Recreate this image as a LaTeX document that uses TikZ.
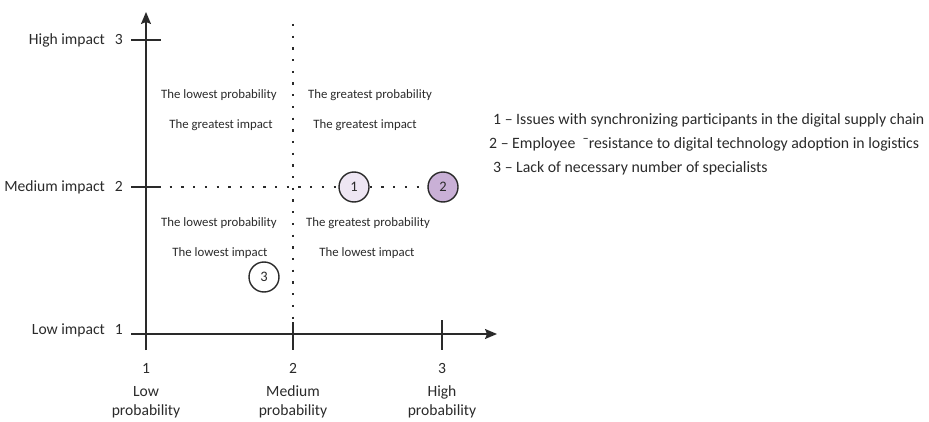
\documentclass[tikz,border=0pt]{standalone}
\usepackage{fontspec}
\setmainfont{Carlito}
\usetikzlibrary{arrows.meta}
\definecolor{ink}{HTML}{2A2A2A}
\definecolor{lilac}{HTML}{EEE6F3}
\definecolor{mauve}{HTML}{C9B0D6}

\tikzset{
  axis/.style={line width=1.4pt, draw=ink, -{Stealth[length=12pt,width=10pt,inset=2pt]}},
  tickmark/.style={line width=1.2pt, draw=ink},
  dotline/.style={line width=2.3pt, draw=ink, dash pattern=on 2.3pt off 9.4pt},
  quad/.style={font=\fontsize{12.8}{14}\selectfont, text=ink, inner sep=0pt},
  axlabel/.style={font=\fontsize{15.6}{19.5}\selectfont, text=ink, inner sep=0pt, align=center},
  risk/.style={circle, draw=ink, line width=1.4pt, minimum size=30pt, inner sep=0pt,
               font=\fontsize{14.5}{15}\selectfont, text=ink},
  legend/.style={font=\fontsize{15.8}{17}\selectfont, text=ink, anchor=west, inner sep=0pt}
}

\begin{document}
\begin{tikzpicture}[x=1pt,y=-1pt]
\useasboundingbox (0,0) rectangle (929,422);

% axes
\coordinate (ybot) at (146,350);
\coordinate (ytop) at (146,12);
\coordinate (xleft) at (131,334);
\coordinate (xright) at (497,334);
\draw[axis] (ybot) -- (ytop);
\draw[axis] (xleft) -- (xright);

% ticks on the impact axis
\coordinate (t3a) at (131,40);  \coordinate (t3b) at (161,40);
\coordinate (t2a) at (131,187); \coordinate (t2b) at (161,187);
\draw[tickmark] (t3a) -- (t3b);
\draw[tickmark] (t2a) -- (t2b);

% ticks on the probability axis
\coordinate (p2a) at (293,322); \coordinate (p2b) at (293,350);
\coordinate (p3a) at (442,320); \coordinate (p3b) at (442,350);
\draw[tickmark] (p2a) -- (p2b);
\draw[tickmark] (p3a) -- (p3b);

% impact labels
\node[axlabel, anchor=east] (lh) at (123,40)  {High impact\hspace{10pt}3};
\node[axlabel, anchor=east] (lm) at (123,187) {Medium impact\hspace{10pt}2};
\node[axlabel, anchor=east] (ll) at (123,330) {Low impact\hspace{10pt}1};

% probability labels
\node[axlabel] (n1) at (146,368) {1};
\node[axlabel] (n2) at (293,368) {2};
\node[axlabel] (n3) at (442,368) {3};
\node[axlabel] (pl) at (146,402) {Low\\probability};
\node[axlabel] (pm) at (293,402) {Medium\\probability};
\node[axlabel] (ph) at (442,402) {High\\probability};

% risks
\node[risk, fill=lilac] (c1) at (354,187) {1};
\node[risk, fill=mauve] (c2) at (443,187) {2};
\node[risk, fill=white] (c3) at (264,277) {3};

% dotted dividers
\coordinate (vtop) at (293,24);
\coordinate (hstart) at (158,187);
\draw[dotline] (vtop) -- (p2a);
\draw[dotline] (hstart) -- (c1);
\draw[dotline] (c1) -- (c2);

% quadrant captions
\node[quad] (q1a) at (219,95)  {The lowest probability};
\node[quad] (q1b) at (221,125) {The greatest impact};
\node[quad] (q2a) at (370,95)  {The greatest probability};
\node[quad] (q2b) at (365,125) {The greatest impact};
\node[quad] (q3a) at (219,223) {The lowest probability};
\node[quad] (q3b) at (220,253) {The lowest impact};
\node[quad] (q4a) at (368,223) {The greatest probability};
\node[quad] (q4b) at (367,253) {The lowest impact};

% legend
\node[legend] (k1) at (493,120) {1 – Issues with synchronizing participants in the digital supply chain};
\node[legend] (k2) at (489,144) {2 – Employee \ ¯resistance to digital technology adoption in logistics};
\node[legend] (k3) at (493,168) {3 – Lack of necessary number of specialists};
\end{tikzpicture}
\end{document}
